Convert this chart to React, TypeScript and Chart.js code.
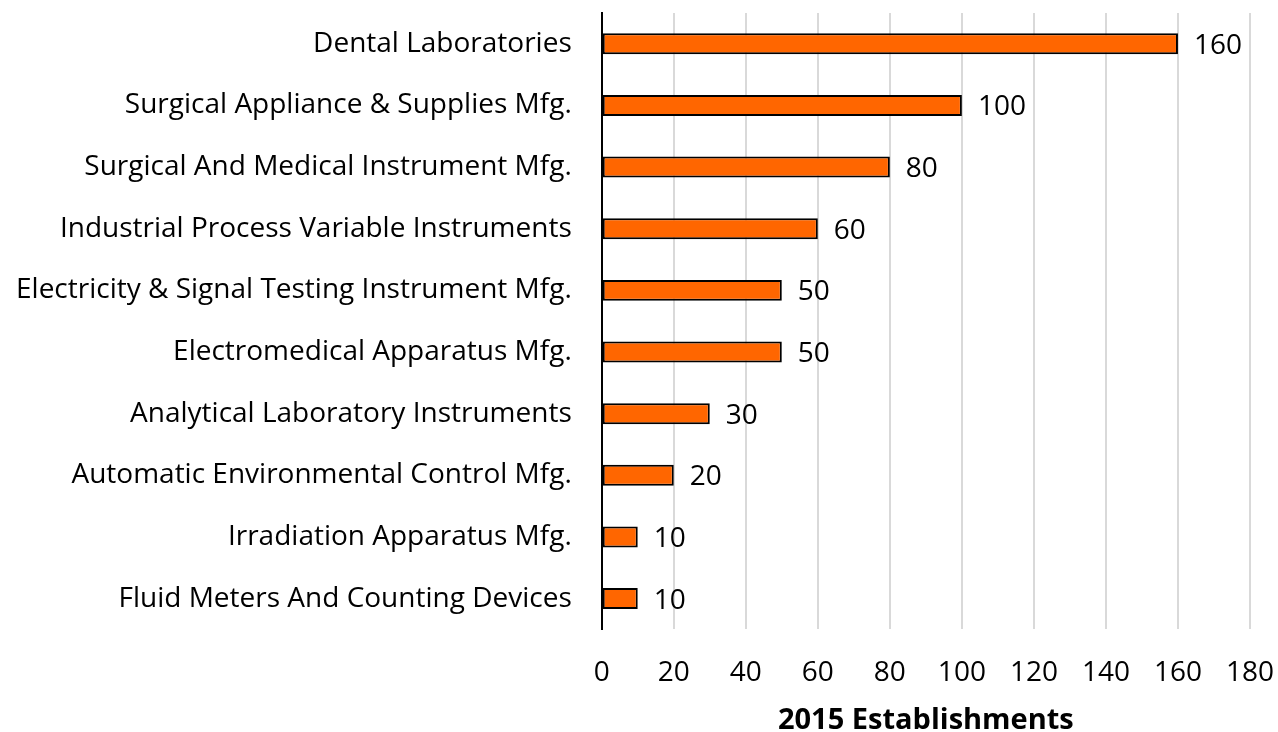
import React, { useEffect, useRef } from "react";
import { Chart, registerables } from "chart.js";

Chart.register(...registerables);

const categories: string[] = [
  "Dental Laboratories",
  "Surgical Appliance & Supplies Mfg.",
  "Surgical And Medical Instrument Mfg.",
  "Industrial Process Variable Instruments",
  "Electricity & Signal Testing Instrument Mfg.",
  "Electromedical Apparatus Mfg.",
  "Analytical Laboratory Instruments",
  "Automatic Environmental Control Mfg.",
  "Irradiation Apparatus Mfg.",
  "Fluid Meters And Counting Devices",
];
const establishments: number[] = [160, 100, 80, 60, 50, 50, 30, 20, 10, 10];
const xMin = 0;
const xMax = 180;
const xStep = 20;
const axisTitle = "2015 Establishments";

const FONT = "'Open Sans', sans-serif";
const X_TICK_PAD = 27;
const Y_TICK_PAD = 30;

const valueLabels = {
  id: "valueLabels",
  afterDatasetsDraw(chart: any) {
    const { ctx } = chart;
    const meta = chart.getDatasetMeta(0);
    const data = chart.data.datasets[0].data as number[];
    ctx.save();
    ctx.font = `28px ${FONT}`;
    ctx.fillStyle = "#000";
    ctx.textAlign = "left";
    ctx.textBaseline = "middle";
    meta.data.forEach((bar: any, i: number) => {
      ctx.fillText(String(data[i]), bar.x + 16, bar.y + 2);
    });
    ctx.restore();
  },
};

export default function App() {
  const ref = useRef<HTMLCanvasElement | null>(null);
  useEffect(() => {
    document.body.style.margin = "0";
    if (!ref.current) return;
    const chart = new Chart(ref.current, {
      type: "bar",
      data: {
        labels: categories,
        datasets: [
          {
            data: establishments,
            backgroundColor: "#FF6600",
            borderColor: "#000",
            borderWidth: 2,
            borderSkipped: false,
            barPercentage: 0.34,
            categoryPercentage: 1,
          },
        ],
      },
      options: {
        indexAxis: "y",
        animation: false,
        responsive: false,
        layout: { padding: { top: 13, right: 28, left: 16, bottom: 0 } },
        plugins: { legend: { display: false }, tooltip: { enabled: false } },
        scales: {
          x: {
            min: xMin,
            max: xMax,
            afterFit: (scale: any) => {
              scale.paddingLeft = 0;
              scale.paddingRight = 0;
              scale.height -= X_TICK_PAD;
            },
            ticks: {
              stepSize: xStep,
              color: "#000",
              font: { family: FONT, size: 28 },
              padding: X_TICK_PAD,
            },
            grid: { color: "#d9d9d9", lineWidth: 2, drawTicks: false },
            border: { display: false },
            title: {
              display: true,
              text: axisTitle,
              color: "#000",
              font: { family: FONT, size: 29, weight: "bold", lineHeight: 1 },
              padding: { top: 16, bottom: -3 },
            },
          },
          y: {
            afterFit: (scale: any) => {
              scale.paddingTop = 0;
              scale.paddingBottom = 0;
              scale.width -= Y_TICK_PAD;
            },
            ticks: {
              color: "#000",
              font: { family: FONT, size: 28 },
              padding: Y_TICK_PAD,
            },
            grid: { display: false, drawTicks: false },
            border: { display: true, color: "#000", width: 2 },
          },
        },
      },
      plugins: [valueLabels],
    });
    return () => chart.destroy();
  }, []);
  return <canvas ref={ref} width={1278} height={732} style={{ display: "block" }} />;
}
